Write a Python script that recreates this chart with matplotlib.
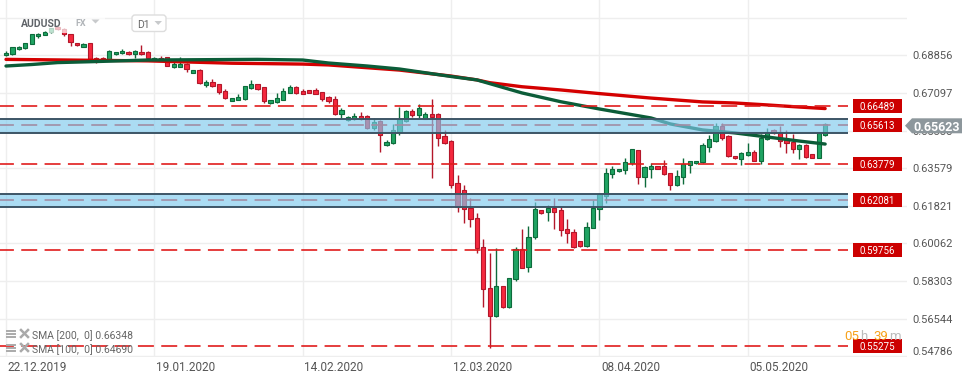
import numpy as np
import matplotlib
matplotlib.use('Agg')
import matplotlib.pyplot as plt
import matplotlib.transforms as mtransforms
from matplotlib.patches import Rectangle, Polygon, FancyBboxPatch
from matplotlib.lines import Line2D

plt.rcParams['font.family'] = ['Roboto', 'DejaVu Sans']
plt.rcParams['lines.scale_dashes'] = False

##### DATA (AUDUSD D1) #####
opens = [
    0.6886, 0.6891, 0.6914, 0.6919, 0.6938, 0.6977, 0.6983, 0.6994, 0.7017, 0.7007,
    0.6984, 0.6942, 0.6926, 0.6942, 0.6872, 0.6872, 0.6867, 0.6891, 0.6896, 0.6902,
    0.6891, 0.6903, 0.6900, 0.6867, 0.6875, 0.6878, 0.6833, 0.6833, 0.6845, 0.6805,
    0.6817, 0.6749, 0.6761, 0.6752, 0.6718, 0.6674, 0.6678, 0.6682, 0.6735, 0.6750,
    0.6736, 0.6662, 0.6669, 0.6678, 0.6711, 0.6736, 0.6719, 0.6722, 0.6722, 0.6713,
    0.6690, 0.6680, 0.6610, 0.6583, 0.6588, 0.6602, 0.6602, 0.6545, 0.6577, 0.6465,
    0.6474, 0.6529, 0.6580, 0.6626, 0.6608, 0.6589, 0.6611, 0.6610, 0.6507, 0.6485,
    0.6287, 0.6256, 0.6172, 0.6123, 0.5988, 0.5796, 0.5666, 0.5805, 0.5710, 0.5838,
    0.5978, 0.5894, 0.6034, 0.6161, 0.6151, 0.6170, 0.6161, 0.6072, 0.6058, 0.6016,
    0.5995, 0.6079, 0.6165, 0.6229, 0.6329, 0.6343, 0.6348, 0.6381, 0.6442, 0.6318,
    0.6355, 0.6368, 0.6368, 0.6334, 0.6281, 0.6318, 0.6371, 0.6381, 0.6385, 0.6458,
    0.6487, 0.6555, 0.6509, 0.6414, 0.6402, 0.6421, 0.6434, 0.6393, 0.6493, 0.6537,
    0.6526, 0.6494, 0.6479, 0.6449, 0.6466, 0.6423, 0.6407, 0.6513]
highs = [
    0.6906, 0.6927, 0.6930, 0.6945, 0.6986, 0.6989, 0.7000, 0.7016, 0.7023, 0.7014,
    0.6988, 0.6944, 0.6945, 0.6944, 0.6880, 0.6880, 0.6910, 0.6902, 0.6917, 0.6904,
    0.6911, 0.6933, 0.6907, 0.6878, 0.6883, 0.6880, 0.6855, 0.6880, 0.6848, 0.6817,
    0.6820, 0.6771, 0.6774, 0.6754, 0.6727, 0.6686, 0.6704, 0.6743, 0.6771, 0.6754,
    0.6738, 0.6677, 0.6708, 0.6732, 0.6749, 0.6743, 0.6728, 0.6724, 0.6733, 0.6714,
    0.6697, 0.6696, 0.6638, 0.6602, 0.6615, 0.6619, 0.6607, 0.6591, 0.6583, 0.6490,
    0.6563, 0.6646, 0.6628, 0.6635, 0.6658, 0.6621, 0.6682, 0.6616, 0.6537, 0.6490,
    0.6326, 0.6279, 0.6217, 0.6150, 0.6025, 0.5960, 0.5983, 0.5807, 0.5844, 0.5988,
    0.6072, 0.6087, 0.6201, 0.6162, 0.6186, 0.6218, 0.6178, 0.6119, 0.6073, 0.6019,
    0.6105, 0.6209, 0.6240, 0.6357, 0.6368, 0.6354, 0.6404, 0.6448, 0.6443, 0.6368,
    0.6381, 0.6370, 0.6396, 0.6335, 0.6349, 0.6404, 0.6394, 0.6392, 0.6474, 0.6513,
    0.6568, 0.6568, 0.6511, 0.6415, 0.6435, 0.6477, 0.6443, 0.6518, 0.6545, 0.6541,
    0.6555, 0.6537, 0.6518, 0.6469, 0.6469, 0.6424, 0.6529, 0.6568]
lows = [
    0.6883, 0.6888, 0.6911, 0.6914, 0.6937, 0.6969, 0.6980, 0.6991, 0.7005, 0.6977,
    0.6931, 0.6930, 0.6924, 0.6867, 0.6852, 0.6856, 0.6866, 0.6889, 0.6891, 0.6886,
    0.6874, 0.6886, 0.6864, 0.6864, 0.6861, 0.6836, 0.6825, 0.6830, 0.6809, 0.6803,
    0.6754, 0.6739, 0.6736, 0.6705, 0.6682, 0.6672, 0.6677, 0.6677, 0.6727, 0.6724,
    0.6664, 0.6660, 0.6662, 0.6677, 0.6708, 0.6705, 0.6704, 0.6710, 0.6704, 0.6674,
    0.6664, 0.6608, 0.6591, 0.6580, 0.6583, 0.6583, 0.6541, 0.6537, 0.6435, 0.6462,
    0.6471, 0.6513, 0.6575, 0.6596, 0.6591, 0.6587, 0.6313, 0.6463, 0.6471, 0.6265,
    0.6153, 0.6103, 0.6081, 0.5960, 0.5707, 0.5515, 0.5663, 0.5705, 0.5702, 0.5830,
    0.5891, 0.5873, 0.6025, 0.6146, 0.6112, 0.6072, 0.6041, 0.6009, 0.5983, 0.5990,
    0.5990, 0.6077, 0.6115, 0.6196, 0.6313, 0.6341, 0.6329, 0.6373, 0.6284, 0.6268,
    0.6313, 0.6354, 0.6326, 0.6254, 0.6276, 0.6285, 0.6337, 0.6379, 0.6382, 0.6435,
    0.6482, 0.6490, 0.6412, 0.6402, 0.6373, 0.6416, 0.6390, 0.6378, 0.6490, 0.6518,
    0.6458, 0.6430, 0.6430, 0.6401, 0.6405, 0.6405, 0.6404, 0.6509]
closes = [
    0.6898, 0.6924, 0.6926, 0.6942, 0.6984, 0.6986, 0.6994, 0.7013, 0.7008, 0.6984,
    0.6950, 0.6933, 0.6939, 0.6869, 0.6864, 0.6866, 0.6907, 0.6900, 0.6907, 0.6891,
    0.6905, 0.6891, 0.6872, 0.6875, 0.6866, 0.6838, 0.6845, 0.6845, 0.6821, 0.6816,
    0.6755, 0.6763, 0.6743, 0.6713, 0.6688, 0.6685, 0.6690, 0.6741, 0.6750, 0.6728,
    0.6674, 0.6676, 0.6685, 0.6718, 0.6736, 0.6710, 0.6706, 0.6711, 0.6706, 0.6683,
    0.6672, 0.6610, 0.6630, 0.6596, 0.6602, 0.6589, 0.6545, 0.6575, 0.6512, 0.6480,
    0.6535, 0.6587, 0.6624, 0.6608, 0.6640, 0.6611, 0.6599, 0.6501, 0.6477, 0.6279,
    0.6175, 0.6165, 0.6119, 0.5983, 0.5791, 0.5666, 0.5805, 0.5710, 0.5843, 0.5978,
    0.5892, 0.6037, 0.6165, 0.6150, 0.6172, 0.6154, 0.6067, 0.6053, 0.5991, 0.5995,
    0.6084, 0.6170, 0.6236, 0.6334, 0.6353, 0.6353, 0.6385, 0.6446, 0.6318, 0.6362,
    0.6368, 0.6355, 0.6329, 0.6281, 0.6320, 0.6376, 0.6390, 0.6390, 0.6466, 0.6494,
    0.6555, 0.6501, 0.6416, 0.6404, 0.6429, 0.6434, 0.6393, 0.6498, 0.6529, 0.6521,
    0.6487, 0.6474, 0.6448, 0.6466, 0.6412, 0.6407, 0.6521, 0.6563]

# moving averages, read at a few candles
sma200_idx = [0, 22, 35, 46, 50, 61, 69, 73, 75, 80, 86, 92, 100, 108, 113, 118, 123, 127]
sma200 = [0.6867, 0.6860, 0.6849, 0.6845, 0.6841, 0.6817, 0.6789, 0.6771, 0.6758,
          0.6739, 0.6724, 0.6707, 0.6686, 0.6668, 0.6663, 0.6654, 0.6644, 0.6637]
sma100_idx = [0, 4, 8, 13, 22, 39, 46, 50, 56, 61, 69, 73, 80, 86, 92, 100, 103,
              108, 113, 118, 123, 127]
sma100 = [0.6836, 0.6843, 0.6852, 0.6856, 0.6864, 0.6867, 0.6864, 0.6850, 0.6836,
          0.6822, 0.6787, 0.6771, 0.6710, 0.6669, 0.6635, 0.6593, 0.6565, 0.6537,
          0.6523, 0.6504, 0.6485, 0.6471]

levels = [0.66489, 0.65613, 0.63779, 0.62081, 0.59756, 0.55275]
bands = [(0.6521, 0.6587), (0.6175, 0.6236)]
last_price = 0.65623

yticks = [0.54786, 0.56544, 0.58303, 0.60062, 0.61821, 0.63579, 0.65338,
          0.67097, 0.68856, 0.70615]
date_idx = [0, 23, 46, 69, 92, 115]
date_labels = ['22.12.2019', '19.01.2020', '14.02.2020', '12.03.2020',
               '08.04.2020', '05.05.2020']
################################################

W, H = 970, 381
fig = plt.figure(figsize=(W / 100, H / 100), dpi=100)
ax = fig.add_axes([0, 1 - 357 / H, 907 / W, 357 / H])
ax.axis('off')
ax.set_ylim(0.54750, 0.71447)
step = 6.45  # pixels per candle
ax.set_xlim(-6 / step, (907 - 6) / step)
xl = ax.get_xlim()[0]
x_end = (848 - 6) / step

# grid
for v in yticks:
    ax.axhline(v, color='#eeeeee', lw=1, zorder=0)
for i in date_idx:
    ax.axvline(i, color='#eeeeee', lw=1, zorder=0)

# candles
bw = 0.66
for i in range(len(opens)):
    o, h, l, c = opens[i], highs[i], lows[i], closes[i]
    if c >= o:
        fc, ec = '#1fa463', '#0d6b3b'
    else:
        fc, ec = '#f5283e', '#b3172a'
    ax.vlines(i, l, h, color=ec, lw=1, zorder=2)
    ax.add_patch(Rectangle((i - bw / 2, min(o, c)), bw, max(abs(c - o), 0.0007),
                           facecolor=fc, edgecolor=ec, lw=0.8, zorder=3))

# SMA lines
ax.plot(sma200_idx, sma200, color='#d40000', lw=2.4, zorder=4, solid_capstyle='round')
ax.plot(sma100_idx, sma100, color='#0b5c38', lw=2.4, zorder=4, solid_capstyle='round')

# dashed levels
ax.hlines(levels, xl, x_end, colors='#e01b1b', lw=1.4,
          linestyles=[(1.5, (11.5, 5.3))], alpha=0.85, zorder=5)

# blue zones
for lo, hi in bands:
    ax.add_patch(Rectangle((xl, lo), x_end - xl, hi - lo, facecolor='#7fcaee',
                           alpha=0.65, edgecolor='none', zorder=6))
    ax.hlines([lo, hi], xl, x_end, colors='#3d5566', lw=1.4, zorder=7)

# level tags
trans = mtransforms.blended_transform_factory(ax.transAxes, ax.transData)
for lv in levels:
    ax.add_patch(Rectangle((853 / 907, lv - 0.00327), 49 / 907, 0.00655,
                           transform=trans, facecolor='#cc0000', edgecolor='none',
                           clip_on=False, zorder=8))
    ax.text(877.5 / 907, lv, f'{lv:.5f}', transform=trans, ha='center',
            va='center_baseline', color='white', fontsize=7, zorder=9)

# price axis labels (0.65338 sits under the price tag, as in the original)
for v in yticks[:-1]:
    yy = v if v > 0.55 else v + 0.0025
    ax.text(912 / 907, yy, f'{v:.5f}', transform=trans, ha='left', va='center_baseline',
            fontsize=8, color='#555555', clip_on=False)

# date labels
transx = mtransforms.blended_transform_factory(ax.transData, ax.transAxes)
for i, lab in zip(date_idx, date_labels):
    ax.text(i + 1.5 / step, -9 / 357, lab, transform=transx, ha='left',
            va='center_baseline', fontsize=8.5, color='#555555', clip_on=False)

# everything else in pixel coords (top-left origin)
pxT = mtransforms.Affine2D().scale(1, -1).translate(0, H)

fig.add_artist(Rectangle((47, 12), 58, 21, transform=pxT, facecolor='white',
                         alpha=0.7, edgecolor='none', zorder=2))
fig.text(21, 23, 'AUDUSD', transform=pxT, fontsize=7.5, fontweight='bold',
         color='#5f6368', va='center_baseline', zorder=3)
fig.text(75, 23, 'FX', transform=pxT, fontsize=6.5, fontweight='bold',
         color='#b0b4b8', va='center_baseline', zorder=3)
fig.add_artist(Polygon([(91.5, 19.5), (99.5, 19.5), (95.5, 23.5)], transform=pxT,
                       facecolor='#c8cacc', edgecolor='none', zorder=3))
fig.add_artist(FancyBboxPatch((132, 15), 34, 16.5, transform=pxT,
                              boxstyle='round,pad=0,rounding_size=3',
                              facecolor='white', edgecolor='#dddddd', lw=1, zorder=3))
fig.text(137, 23.5, 'D1', transform=pxT, fontsize=7.5, color='#666666',
         va='center_baseline', zorder=4)
fig.add_artist(Polygon([(154.5, 21), (162, 21), (158.2, 25)], transform=pxT,
                       facecolor='#c8cacc', edgecolor='none', zorder=4))

# current price tag
fig.add_artist(Polygon([(905, 125.7), (912, 118.3), (962, 118.3), (962, 133.3),
                        (912, 133.3)], transform=pxT, facecolor='#8d979c',
                       edgecolor='none', zorder=5))
fig.text(936.5, 126, f'{last_price:.5f}', transform=pxT, ha='center',
         va='center_baseline', fontsize=9, fontweight='bold', color='white', zorder=6)

# timer
for s, x, col in [('05', 844, '#f7a21b'), ('h', 860, '#bbbbbb'),
                  ('39', 873, '#f7a21b'), ('m', 889, '#bbbbbb')]:
    fig.text(x, 334.5, s, transform=pxT, fontsize=9.5, color=col,
             va='center_baseline', zorder=5)

# SMA legend
for row, (txt, y) in enumerate([('SMA [200,  0] 0.66348', 334),
                                 ('SMA [100,  0] 0.64690', 348)]):
    for dy in (-3, 0, 3):
        fig.add_artist(Line2D([7, 15], [y + dy - 0.5, y + dy - 0.5], transform=pxT,
                              color='#aaaaaa', lw=1.4, zorder=5))
    fig.add_artist(Line2D([21, 28], [y - 4, y + 3], transform=pxT, color='#aaaaaa',
                          lw=1.8, zorder=5))
    fig.add_artist(Line2D([21, 28], [y + 3, y - 4], transform=pxT, color='#aaaaaa',
                          lw=1.8, zorder=5))
    fig.text(32, y + 0.5, txt, transform=pxT, fontsize=7.5, color='#666666',
             va='center_baseline', zorder=5)

fig.savefig('out.png', dpi=100, facecolor='white')
